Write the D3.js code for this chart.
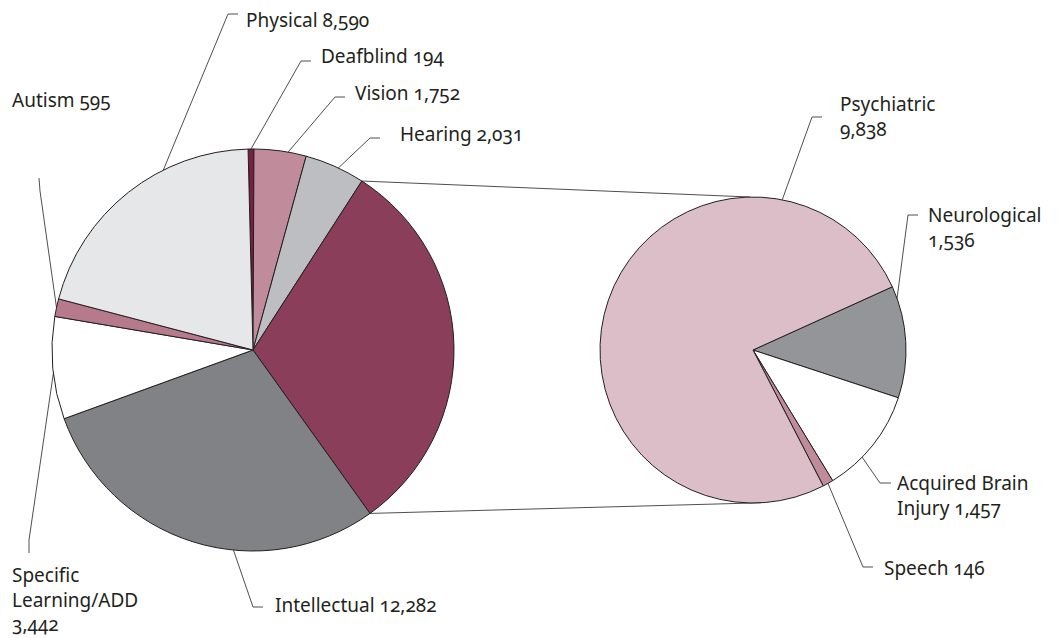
<!DOCTYPE html>
<html>
<head>
<meta charset="utf-8">
<script src="https://cdn.jsdelivr.net/npm/d3@7"></script>
<style>
    body { margin: 0; background: #fff; }
    text { font-family: 'Noto Sans', sans-serif; font-size: 19px; fill: #231f20; font-variant-numeric: oldstyle-nums; }
</style>
</head>
<body>
<div id="chart"></div>
<script>

/* left pie: all disability groups (clockwise from top) */
var mainNames = ['Deafblind', 'Vision', 'Hearing', 'Other', 'Intellectual', 'Specific Learning/ADD', 'Autism', 'Physical'];
var mainValues = [194, 1752, 2031, 12977, 12282, 3442, 595, 8590];
var mainColors = ['#7a1f41', '#c08c9c', '#bcbec1', '#8a3e5a', '#808285', '#ffffff', '#b67a8c', '#e6e7e8'];

/* right pie: breakdown of the "Other" slice */
var subNames = ['Neurological', 'Acquired Brain Injury', 'Speech', 'Psychiatric'];
var subValues = [1536, 1457, 146, 9838];
var subColors = ['#939598', '#ffffff', '#c08c9c', '#dcbec8'];

/* label text lines */
var mainLabels = [['Deafblind 194'], ['Vision 1,752'], ['Hearing 2,031'], [], ['Intellectual 12,282'],
    ['Specific', 'Learning/ADD', '3,442'], ['Autism 595'], ['Physical 8,590']];
var subLabels = [['Neurological', '1,536'], ['Acquired Brain', 'Injury  1,457'], ['Speech 146'], ['Psychiatric', '9,838']];

var width = 1062,
    height = 638;

var rad = function(deg) { return deg * Math.PI / 180; };

var svg = d3.select('#chart')
    .append('svg')
    .attr('width', width)
    .attr('height', height);

var pointAt = function(cx, cy, r, a) {
    return [cx + r * Math.sin(a), cy - r * Math.cos(a)];
};

var drawPie = function(values, colors, cx, cy, r, start) {
    var pie = d3.pie().sort(null)
        .startAngle(rad(start))
        .endAngle(rad(start) + 2 * Math.PI);
    var arcs = pie(values);
    var arc = d3.arc().innerRadius(0).outerRadius(r);

    svg.append('g')
        .attr('transform', 'translate(' + cx + ',' + cy + ')')
        .selectAll('path')
        .data(arcs)
        .enter().append('path')
        .attr('d', arc)
        .attr('fill', function(d, i) { return colors[i]; })
        .attr('stroke', '#231f20')
        .attr('stroke-width', 1)
        .attr('stroke-linejoin', 'round');

    return arcs;
};

/* label layout: where on the slice the leader starts (0..1), elbow, tick end, text */
var drawLabels = function(arcs, labels, layout, cx, cy, r) {
    var g = svg.append('g');
    layout.forEach(function(l) {
        var d = arcs[l.i];
        var a = d.startAngle + (d.endAngle - d.startAngle) * l.f;
        var p = pointAt(cx, cy, r, a);
        g.append('polyline')
            .attr('points', [p, l.elbow, l.tick].map(function(q) { return q.join(','); }).join(' '))
            .attr('fill', 'none')
            .attr('stroke', '#231f20')
            .attr('stroke-width', 0.8);
        var t = g.append('text')
            .attr('x', l.text[0])
            .attr('y', l.text[1]);
        labels[l.i].forEach(function(s, k) {
            t.append('tspan')
                .attr('x', l.text[0])
                .attr('dy', k === 0 ? 0 : (l.lh || 25))
                .text(s);
        });
    });
};

var L = { cx: 253, cy: 350, r: 201 },
    R = { cx: 753, cy: 350, r: 153 };

/* connector lines from the "Other" slice to the right pie (behind the pies) */
var connectors = svg.append('g');

var mainArcs = drawPie(mainValues, mainColors, L.cx, L.cy, L.r, -1.4);
var subArcs = drawPie(subValues, subColors, R.cx, R.cy, R.r, 65.6);

var other = mainArcs[3];
var topA = pointAt(L.cx, L.cy, L.r, other.startAngle),
    botA = pointAt(L.cx, L.cy, L.r, other.endAngle),
    topB = pointAt(R.cx, R.cy, R.r, rad(-1)),
    botB = pointAt(R.cx, R.cy, R.r, rad(177));

connectors.selectAll('line')
    .data([[topA, topB], [botA, botB]])
    .enter().append('line')
    .attr('x1', function(d) { return d[0][0]; })
    .attr('y1', function(d) { return d[0][1]; })
    .attr('x2', function(d) { return d[1][0]; })
    .attr('y2', function(d) { return d[1][1]; })
    .attr('stroke', '#231f20')
    .attr('stroke-width', 0.8);

drawLabels(mainArcs, mainLabels, [
    { i: 7, f: 0.66, elbow: [228, 14], tick: [238, 14], text: [246, 27] },
    { i: 0, f: 0.5, elbow: [301, 61], tick: [311, 61], text: [321, 63] },
    { i: 1, f: 0.65, elbow: [335, 97], tick: [345, 97], text: [355, 100] },
    { i: 2, f: 0.56, elbow: [370, 138], tick: [380, 138], text: [400, 141] },
    { i: 6, f: 0.5, elbow: [40, 191], tick: [39, 178], text: [12, 107] },
    { i: 5, f: 0.45, elbow: [29, 540], tick: [29, 553], text: [12, 582], lh: 24.5 },
    { i: 4, f: 0.39, elbow: [253, 607], tick: [263, 607], text: [275, 612] }
], L.cx, L.cy, L.r);

drawLabels(subArcs, subLabels, [
    { i: 3, f: 0.80, elbow: [812, 117], tick: [822, 117], text: [840, 111] },
    { i: 0, f: 0.11, elbow: [908, 215], tick: [918, 215], text: [928, 222] },
    { i: 1, f: 0.65, elbow: [880, 483], tick: [891, 483], text: [897, 490] },
    { i: 2, f: 0.5, elbow: [863, 567], tick: [873, 567], text: [884, 575] }
], R.cx, R.cy, R.r);

</script>
</body>
</html>
